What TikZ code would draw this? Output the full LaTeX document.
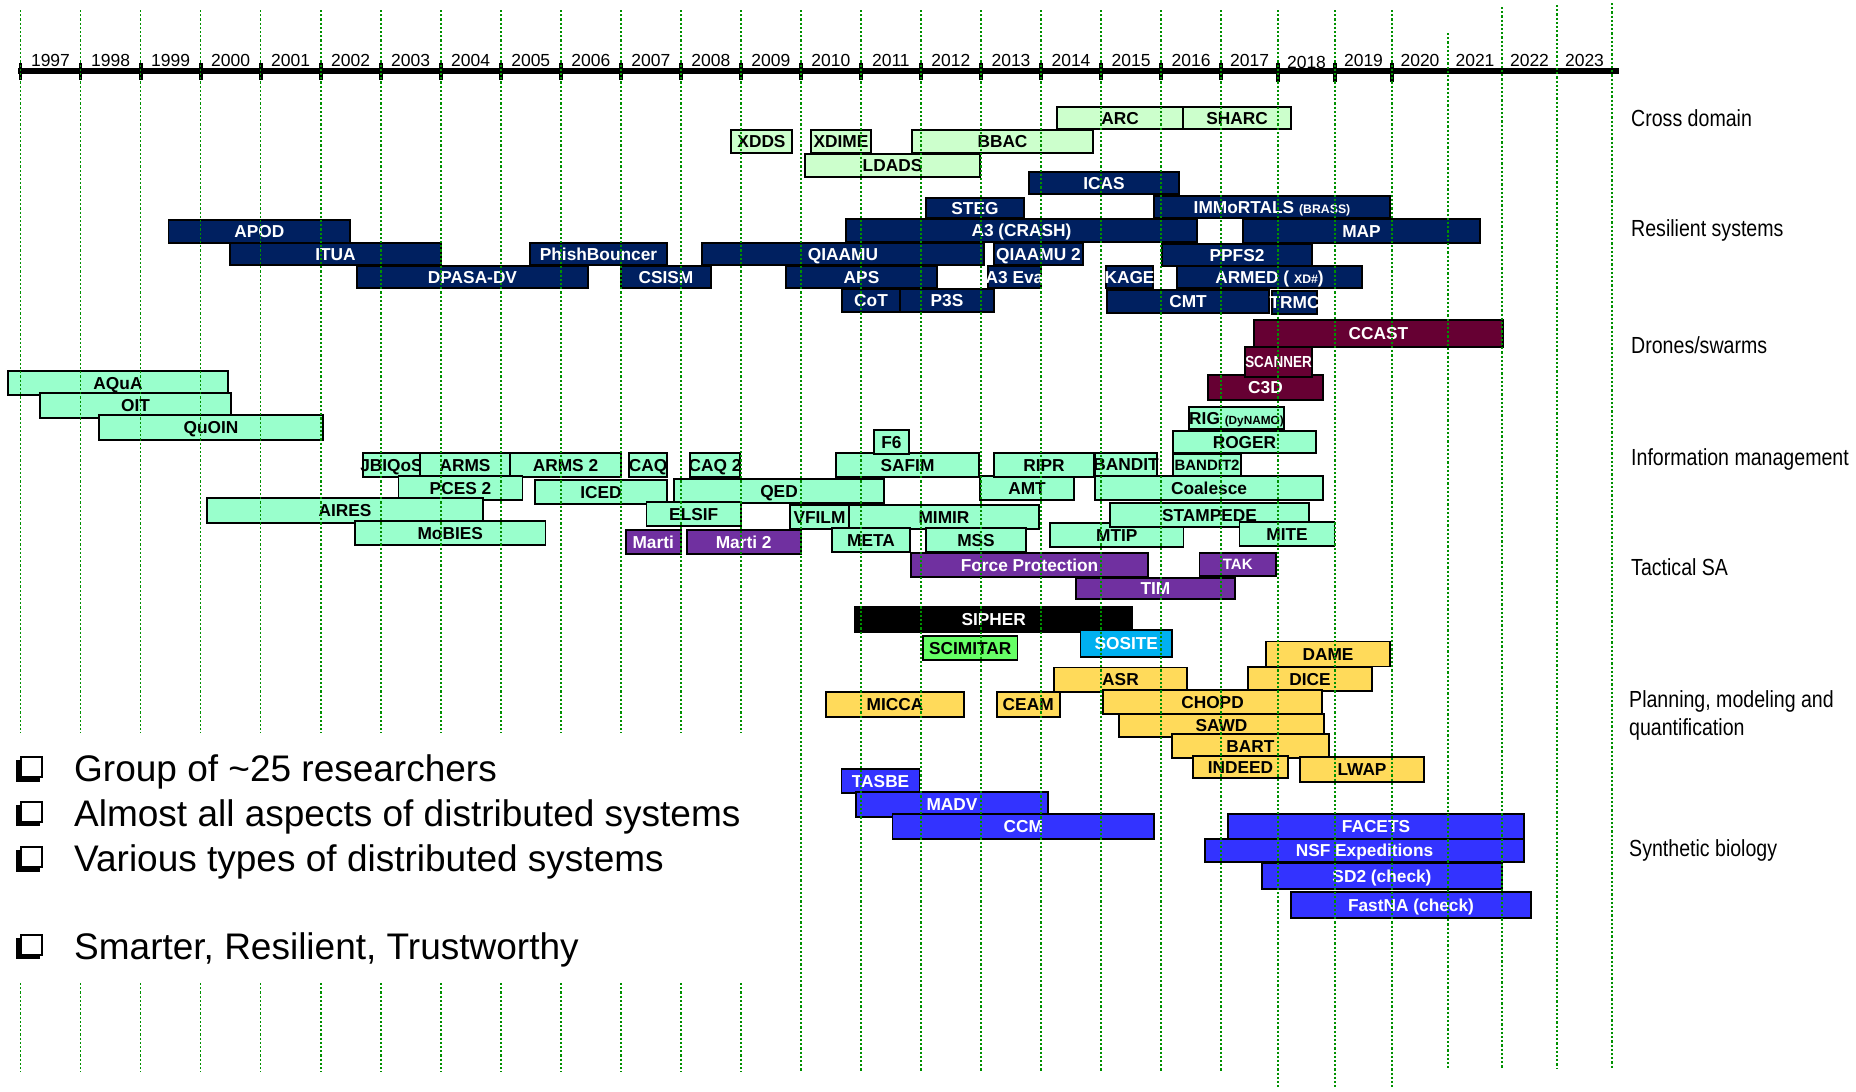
\documentclass[tikz,border=0pt]{standalone}
\usepackage{fontspec}
\setmainfont{Liberation Sans}
\newfontfamily\narrowfont{Liberation Sans}[FakeStretch=0.84]

\definecolor{cdfill}{HTML}{CCFFCC}
\definecolor{rsfill}{HTML}{002060}
\definecolor{drfill}{HTML}{660033}
\definecolor{imfill}{HTML}{99FFCC}
\definecolor{tsfill}{HTML}{7030A0}
\definecolor{pmfill}{HTML}{FFDA5A}
\definecolor{sbfill}{HTML}{3333FF}
\definecolor{scfill}{HTML}{66FF66}
\definecolor{sofill}{HTML}{00B0F0}
\definecolor{gridgreen}{RGB}{0,145,0}

% one project bar: name, style, x1, x2, y1, y2, label
\newcommand\pbar[7]{%
  \pgfmathsetmacro\pbarw{#4-#3}%
  \pgfmathsetmacro\pbarh{#6-#5}%
  \node[#2, minimum width=\pbarw pt, minimum height=\pbarh pt] (#1) at ({(#3+#4)/2},{(#5+#6)/2}) {\makebox[0pt]{#7}};%
}
\newcommand\smalltxt[1]{{\fontsize{12.3}{14}\selectfont #1}}

\begin{document}
\begin{tikzpicture}[x=1pt, y=-1pt,
  bar/.style={rectangle, draw=black, line width=1.6pt, inner sep=0pt, outer sep=0pt,
    font=\bfseries\fontsize{17.3}{20}\selectfont, text height=12.4pt, text depth=0pt},
  cd/.style={bar, fill=cdfill, text=black},
  rs/.style={bar, fill=rsfill, text=white},
  dr/.style={bar, fill=drfill, text=white},
  im/.style={bar, fill=imfill, text=black},
  ts/.style={bar, fill=tsfill, text=white},
  pm/.style={bar, fill=pmfill, text=black},
  sb/.style={bar, fill=sbfill, text=white},
  catlabel/.style={anchor=base west, inner sep=0pt, font=\narrowfont\fontsize{23.3}{28}\selectfont},
  yearlabel/.style={anchor=base, inner sep=0pt, font=\fontsize{17.5}{20}\selectfont},
  bullettext/.style={anchor=base west, inner sep=0pt, font=\fontsize{37}{44}\selectfont},
  gridline/.style={draw=gridgreen, line width=1.6pt, dash pattern=on 2.2pt off 2pt}
]
\useasboundingbox[fill=white] (0,0) rectangle (1856,1092);

% ---------- time axis ----------
\coordinate (axl) at (18,71);
\coordinate (axr) at (1619,71);
\draw[line width=5.5pt] (axl) -- (axr);
\foreach \gx in {20.5,80.5,140.6,200.6,260.6,320.7,380.7,440.7,500.7,560.8,620.8,680.8,740.9,800.9,860.9,920.9,981.0,1041.0,1101.0,1161.1,1221.1}
  \fill (\gx-1.9,63) rectangle (\gx+1.9,80);
\foreach \gx in {1278,1335,1392}
  \fill (\gx-2.2,63) rectangle (\gx+2.2,82);

\foreach \yr/\cx in {1997/50.5,1998/110.55,1999/170.6,2000/230.6,2001/290.65,2002/350.7,2003/410.7,2004/470.7,2005/530.75,2006/590.8,2007/650.8,2008/710.85,2009/770.9,2010/830.9,2011/890.9,2012/950.95,2013/1011,2014/1071,2015/1131.05,2016/1191.1,2017/1249.55,2019/1363.5,2020/1420,2021/1475,2022/1529.5,2023/1584.5}
  \node[yearlabel] (y\yr) at (\cx,66.5) {\yr};
\node[yearlabel] (y2018) at (1306.5,68.5) {2018};

% ---------- cross domain ----------
\pbar{arc}{cd}{1057}{1183}{107}{129}{ARC}
\pbar{sharc}{cd}{1183}{1291}{107}{129}{SHARC}
\pbar{xdds}{cd}{731}{792}{130}{153}{XDDS}
\pbar{xdime}{cd}{811}{871}{130}{153}{XDIME}
\pbar{bbac}{cd}{912}{1093}{130}{153}{BBAC}
\pbar{ldads}{cd}{805}{980}{154}{177}{LDADS}

% ---------- resilient systems ----------
\pbar{icas}{rs}{1029}{1179}{172}{194}{ICAS}
\pbar{steg}{rs}{926}{1024}{198}{218}{STEG}
\pbar{immortals}{rs}{1154}{1390}{196}{218}{IMMoRTALS \smalltxt{(BRASS)}}
\pbar{apod}{rs}{168.5}{350}{220}{243}{APOD}
\pbar{crash}{rs}{846}{1197}{219}{242}{A3 (CRASH)}
\pbar{map}{rs}{1243}{1480}{219}{243}{MAP}
\pbar{itua}{rs}{230}{441}{243}{265}{ITUA}
\pbar{phish}{rs}{530}{667}{243}{265}{PhishBouncer}
\pbar{qiaamu}{rs}{702}{984}{243}{265}{QIAAMU}
\pbar{qiaamutwo}{rs}{994}{1083}{243}{265}{QIAAMU 2}
\pbar{ppfs}{rs}{1162}{1312}{244}{266}{PPFS2}
\pbar{dpasa}{rs}{357}{588}{266}{288}{DPASA-DV}
\pbar{csism}{rs}{621}{711}{266}{288}{CSISM}
\pbar{aps}{rs}{786}{937}{266}{288}{APS}
\pbar{athreeeva}{rs}{988}{1041}{266}{288}{A3 Eva}
\pbar{kage}{rs}{1106}{1153}{266}{288}{KAGE}
\pbar{armed}{rs}{1177}{1362}{266}{288}{ARMED ( \smalltxt{XD\#})}
\pbar{cot}{rs}{842}{900}{289}{312}{CoT}
\pbar{pthrees}{rs}{900}{994}{289}{312}{P3S}
\pbar{cmt}{rs}{1107}{1269}{290}{313}{CMT}
\pbar{trmc}{rs}{1272}{1317}{291}{314}{TRMC}

% ---------- drones / swarms ----------
\pbar{ccast}{dr}{1254}{1503}{320}{347}{CCAST}
\pbar{cthreed}{dr}{1208}{1323}{375}{400}{C3D}
\pbar{scanner}{dr, font=\narrowfont\bfseries\fontsize{16}{18}\selectfont, text height=11.5pt}{1245}{1312}{347}{377}{SCANNER}

% ---------- information management ----------
\pbar{aqua}{im}{8}{228}{371}{395}{AQuA}
\pbar{oit}{im}{40}{231}{393}{418}{OIT}
\pbar{quoin}{im}{99}{323}{415}{440}{QuOIN}
\pbar{rig}{im}{1189}{1284}{407}{429}{RIG {\fontsize{11.8}{14}\selectfont(DyNAMO)}}
\pbar{roger}{im}{1173}{1316}{431}{453}{ROGER}
\pbar{jbiqos}{im}{363}{420}{453}{477}{JBIQoS}
\pbar{arms}{im}{420}{510}{453}{477}{ARMS}
\pbar{armstwo}{im}{510}{621}{453}{477}{ARMS 2}
\pbar{caq}{im}{629}{667}{453}{477}{CAQ}
\pbar{caqtwo}{im}{690}{740}{453}{477}{CAQ 2}
\pbar{safim}{im}{836}{979}{453}{477}{SAFIM}
\pbar{fsix}{im}{874}{909}{430}{454}{F6}
\pbar{amt}{im}{980}{1074}{476}{500}{AMT}
\pbar{ripr}{im}{994}{1094}{453}{477}{RIPR}
\pbar{bandit}{im}{1095}{1157}{453}{476}{BANDIT}
\pbar{bandittwo}{im, font=\bfseries\fontsize{15}{17}\selectfont, text height=10.8pt}{1173}{1241}{454}{477}{BANDIT2}
\pbar{pcestwo}{im}{398.5}{522.5}{476}{500}{PCES 2}
\pbar{iced}{im}{535}{667}{480}{504}{ICED}
\pbar{qed}{im}{674}{884}{479}{503}{QED}
\pbar{coalesce}{im}{1095}{1323}{476}{500}{Coalesce}
\pbar{aires}{im}{207}{483}{498}{523}{AIRES}
\pbar{elsif}{im}{646.5}{741}{502}{526}{ELSIF}
\pbar{vfilm}{im}{790}{849}{505}{529}{VFILM}
\pbar{mimir}{im}{849}{1039}{505}{529}{MIMIR}
\pbar{mtip}{im}{1050}{1183.5}{523}{547}{MTIP}
\pbar{stampede}{im}{1110}{1309}{503}{527}{STAMPEDE}
\pbar{mite}{im}{1239.5}{1334.5}{522}{546}{MITE}
\pbar{mobies}{im}{355}{545.5}{521}{545}{MoBIES}
\pbar{meta}{im}{832}{910}{528}{552}{META}
\pbar{mss}{im}{926}{1026}{528}{552}{MSS}

% ---------- tactical SA ----------
\pbar{marti}{ts}{625.7}{680.7}{530}{554}{Marti}
\pbar{martitwo}{ts}{686.7}{800.7}{530}{554}{Marti 2}
\pbar{forceprot}{ts}{911}{1148}{553}{577}{Force Protection}
\pbar{tak}{ts, font=\bfseries\fontsize{15}{17}\selectfont, text height=10.8pt}{1199.5}{1276}{553}{576}{TAK}
\pbar{tim}{ts}{1076}{1235}{578}{599}{TIM}

\pbar{sipher}{bar, fill=black, text=white}{855}{1132.5}{607}{632}{SIPHER}
\pbar{scimitar}{bar, fill=scfill, text=black}{923}{1017.5}{636}{660}{SCIMITAR}
\pbar{sosite}{bar, fill=sofill, text=white}{1080.5}{1172}{630}{657}{SOSITE}

% ---------- planning, modeling and quantification ----------
\pbar{dame}{pm}{1266}{1390}{641.5}{666.5}{DAME}
\pbar{dice}{pm}{1248}{1372}{666.7}{691}{DICE}
\pbar{asr}{pm}{1054}{1187}{667.5}{691.7}{ASR}
\pbar{micca}{pm}{826}{964}{691.7}{716.7}{MICCA}
\pbar{ceam}{pm}{996.7}{1059.7}{691.7}{716.7}{CEAM}
\pbar{chopd}{pm}{1103}{1322}{690}{714}{CHOPD}
\pbar{sawd}{pm}{1119}{1324}{714}{737}{SAWD}
\pbar{bart}{pm}{1172}{1329}{734}{758}{BART}
\pbar{indeed}{pm}{1193}{1288}{756}{778}{INDEED}
\pbar{lwap}{pm}{1300}{1424}{757}{782}{LWAP}

% ---------- synthetic biology ----------
\pbar{tasbe}{sb}{841.6}{919.6}{769}{793}{TASBE}
\pbar{madv}{sb}{856}{1048}{792}{817}{MADV}
\pbar{ccm}{sb}{892.5}{1154}{814}{839}{CCM}
\pbar{facets}{sb}{1228}{1524}{814}{839}{FACETS}
\pbar{nsf}{sb}{1205}{1524}{839}{862}{NSF Expeditions}
\pbar{sdtwo}{sb}{1262}{1502}{863}{889}{SD2 (check)}
\pbar{fastna}{sb}{1291}{1531}{892}{918}{FastNA (check)}

% ---------- category labels ----------
\node[catlabel] (lcross) at (1631,126.5) {Cross domain};
\node[catlabel] (lres) at (1631,236.7) {Resilient systems};
\node[catlabel] (ldrones) at (1631,353.3) {Drones/swarms};
\node[catlabel] (linfo) at (1631,465.7) {Information management};
\node[catlabel] (ltact) at (1631,575.7) {Tactical SA};
\node[catlabel] (lplan) at (1629,707.3) {Planning, modeling and};
\node[catlabel] (lquant) at (1629,735.7) {quantification};
\node[catlabel] (lsyn) at (1629,856) {Synthetic biology};

% ---------- bullet list (shadowed square boxes) ----------
\foreach \by/\txt [count=\i] in {781.7/{Group of \textasciitilde25 researchers},826/{Almost all aspects of distributed systems},871.7/{Various types of distributed systems},959.3/{Smarter, Resilient, Trustworthy}}{
  \fill (16,\by-21.5) rectangle (39.5,\by);
  \filldraw[fill=white, draw=black, line width=2pt] (20.5,\by-24.5) rectangle (42,\by-4.5);
  \node[bullettext] (bullet\i) at (74,\by) {\txt};
}

% ---------- year grid (drawn over the bars) ----------
\foreach \gx in {20.5,80.5,140.6,200.6,260.6,320.7,380.7,440.7,500.7,560.8,620.8,680.8,740.9}{
  \draw[gridline] (\gx,10) -- (\gx,733);
  \draw[gridline] (\gx,983) -- (\gx,1072);
}
\foreach \gx in {800.9,860.9,920.9,981.0,1041.0,1101.0,1161.1,1221.1}
  \draw[gridline] (\gx,10) -- (\gx,1072);
\foreach \gx in {1278,1335,1392}
  \draw[gridline] (\gx,10) -- (\gx,1088);
\draw[gridline] (1448,33) -- (1448,1068);
\foreach \gx/\gt in {1502/7,1557/5,1612/3}
  \draw[gridline] (\gx,\gt) -- (\gx,1068);
\end{tikzpicture}
\end{document}
